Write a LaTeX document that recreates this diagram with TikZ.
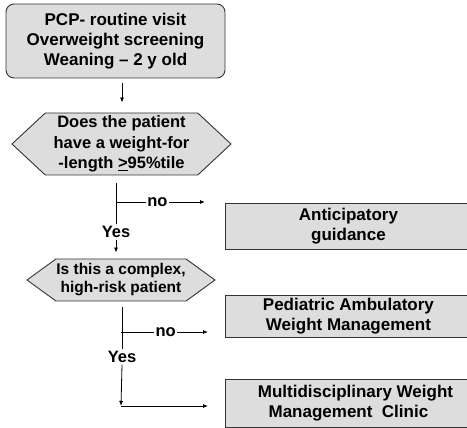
\documentclass[tikz,border=0pt]{standalone}
\usepackage{fontspec}
\setmainfont{Liberation Sans}
\usepackage{tikz}
\usetikzlibrary{positioning}
\usetikzlibrary{arrows.meta}
\usetikzlibrary{shapes.symbols}
\definecolor{boxgray}{RGB}{221,221,221}
\tikzset{flowbox/.style={draw=black!80, fill=boxgray, line width=0.9pt, align=center, font=\fontsize{17}{20}\selectfont\bfseries},
hexq/.style={flowbox, shape=signal, signal to=east and west, inner sep=0pt},
lbl/.style={font=\fontsize{16.5}{19}\selectfont\bfseries, inner sep=1.5pt},
arr/.style={-{Latex[length=5pt,width=4pt]}, line width=0.8pt}}

\begin{document}
\begin{tikzpicture}[x=1pt, y=-1pt, line width=0.8pt]

				\path[use as bounding box] (0,0) rectangle (467,428);
				\clip (0,0) rectangle (467,428);
				\node[flowbox, rounded corners=8pt, minimum width=219pt, minimum height=74pt] (visit) at (115.5,41) {PCP- routine visit\\Overweight screening\\Weaning -- 2 y old};
				\node[hexq, signal pointer angle=86, minimum width=219pt, minimum height=62pt, font=\fontsize{16.5}{20.5}\selectfont\bfseries] (wfl) at (121.5,144) {Does the patient\\have a weight-for\\-length \underline{>}95\%tile};
				\node[hexq, signal pointer angle=72, minimum width=188pt, minimum height=42pt, font=\fontsize{15.5}{18}\selectfont\bfseries] (risk) at (121,280) {Is this a complex,\\high-risk patient};
				\node[flowbox, minimum width=246pt, minimum height=46pt, anchor=west] (guid) at (225,226) {Anticipatory\\guidance};
				\node[flowbox, minimum width=246pt, minimum height=41pt, anchor=west] (pawm) at (225,316.5) {Pediatric Ambulatory\\Weight Management};
				\node[flowbox, minimum width=246pt, minimum height=48pt, anchor=west] (mdwm) at (225,403) {\hspace{14pt}Multidisciplinary Weight\\Management\ \ Clinic};
				\node[lbl] (yes1) at (116,232) {Yes};
				\node[lbl] (yes2) at (122,357) {Yes};
				\coordinate (fork1) at (116,202);
				\coordinate (fork2) at (121,332);
				\coordinate (bend) at (121,406);

				\draw[arr, shorten <=5pt, shorten >=10pt] (visit.south -| 122,0) -- (wfl.north -| 122,0);
				\draw[shorten <=8pt] (wfl.south -| yes1) -- (yes1.north);
				\draw[arr, shorten >=6pt] (yes1.south) -- (yes1.south |- risk.north);
				\draw[arr, shorten >=20pt] (fork1) -- node[lbl, fill=white, pos=0.38] {no} (guid.west |- fork1);
				\draw[shorten <=6pt] (risk.south -| yes2) -- (yes2.north);
				\draw[arr] (yes2.south) -- (bend);
				\draw[arr, shorten >=17pt] (fork2) -- node[lbl, fill=white, pos=0.43] {no} (pawm.west |- fork2);
				\draw[arr, shorten >=17pt] (bend) -- (mdwm.west |- bend);
			\end{tikzpicture}
\end{document}
